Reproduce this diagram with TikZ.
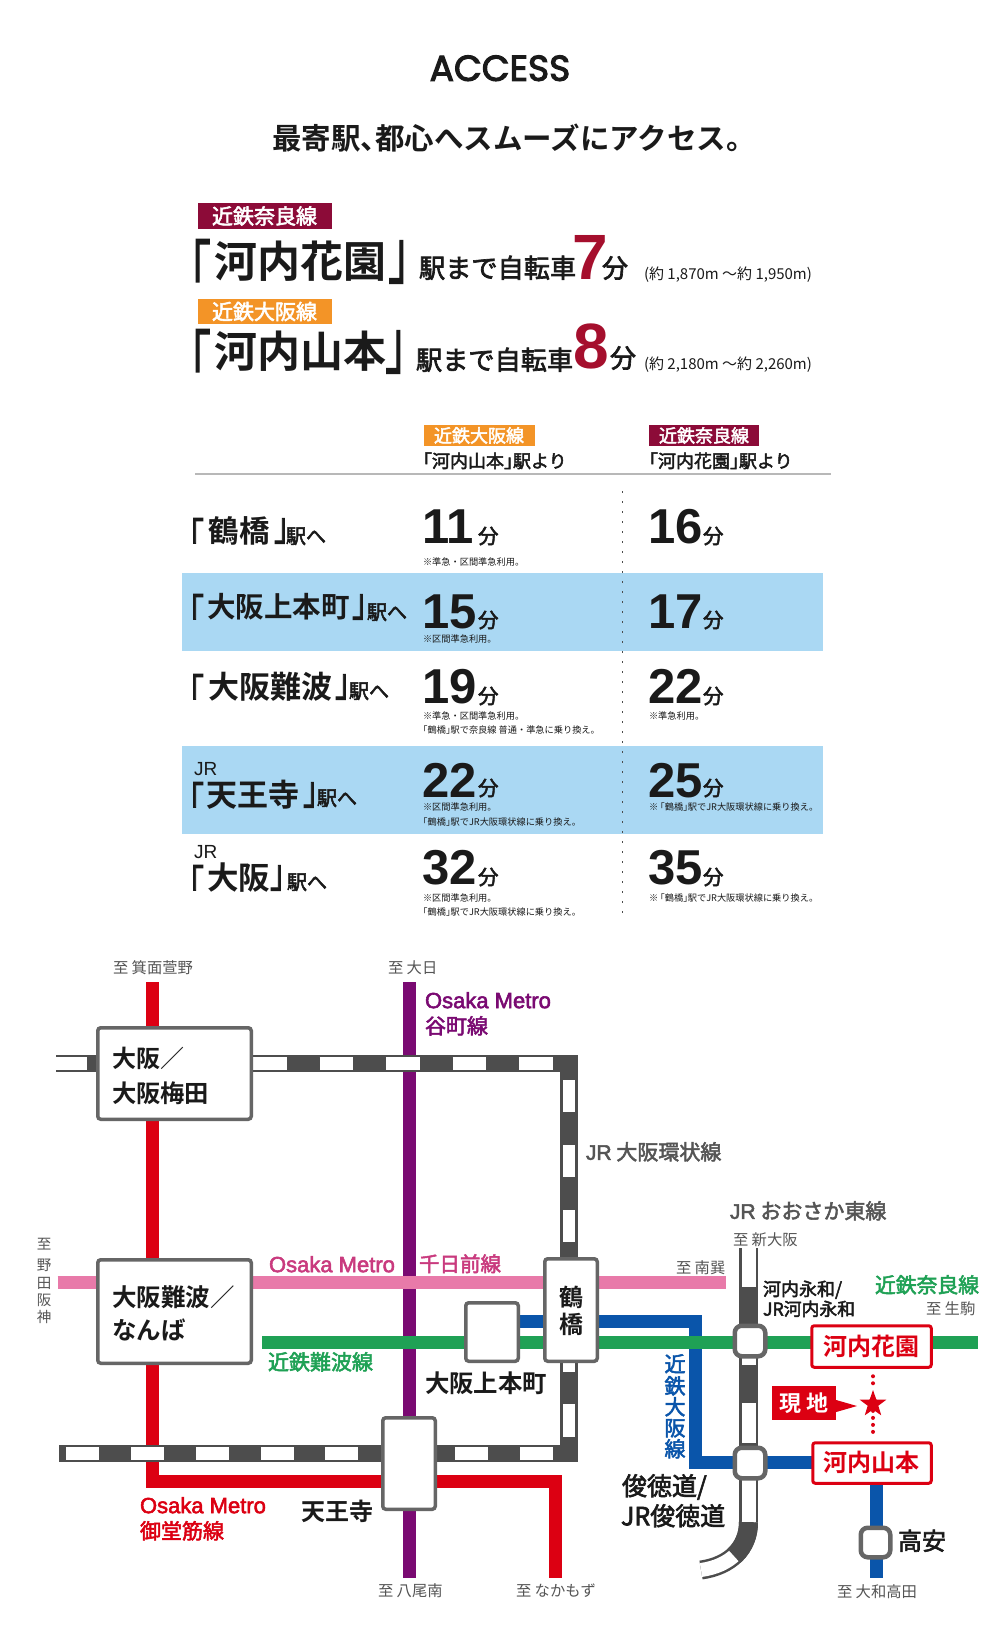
\documentclass[tikz,border=0pt]{standalone}
\usepackage{fontspec}
\usepackage{graphicx}
\usetikzlibrary{shapes.geometric,backgrounds}
\setmainfont{Noto Sans CJK JP}
\newfontfamily\jr{Noto Sans CJK JP}
\newfontfamily\jb{Noto Sans CJK JP Bold}
\newfontfamily\jm{Noto Sans CJK JP}[FakeBold=2.5]
\newfontfamily\lb{Liberation Sans Bold}
\newfontfamily\lr{Liberation Sans}
\newfontfamily\lm{Liberation Sans}[FakeBold=2.5]
\newfontfamily\pp{Poppins}[FakeBold=3]
\newcommand{\lk}{\makebox[.5em][r]{「}}
\newcommand{\rk}{\makebox[.5em][l]{」}}
\definecolor{maroon}{HTML}{8C0B38}
\definecolor{orangeT}{HTML}{F39427}
\definecolor{numred}{HTML}{A50F2D}
\definecolor{band}{HTML}{AAD8F3}
\definecolor{ink}{HTML}{1A1A1A}
\definecolor{gtext}{HTML}{555555}
\definecolor{stgray}{HTML}{666666}
\definecolor{jrdark}{HTML}{4D4D4D}
\definecolor{lred}{HTML}{DC0012}
\definecolor{lpurple}{HTML}{7A0A72}
\definecolor{lpink}{HTML}{E87AA9}
\definecolor{lpinkt}{HTML}{C93A7E}
\definecolor{lgreen}{HTML}{1FA155}
\definecolor{lblue}{HTML}{0A55AA}
\tikzset{
 txt/.style={inner sep=0pt,outer sep=0pt,text=ink},
 stbox/.style={draw=stgray,line width=3.5pt,fill=white,rounded corners=3pt,inner sep=0pt,outer sep=0pt},
 smallst/.style={draw=stgray,line width=4.5pt,fill=white,rounded corners=7pt,inner sep=0pt,outer sep=0pt},
 redst/.style={draw=lred,line width=3pt,fill=white,rounded corners=2.5pt,inner sep=0pt,outer sep=0pt},
 railline/.style={line width=13pt,line join=miter},
 jrbase/.style={draw=jrdark,line width=17.5pt,line join=miter},
 jrw/.style={draw=white,line width=12.5pt},
 ebase/.style={draw=jrdark,line width=19pt},
 ew/.style={draw=white,line width=14pt},
}
\newcommand{\Tw}[6][]{\node[txt,anchor=base west,#1] (#2) at (#3,{#4+0.37*#5}) {\fontsize{#5}{#5}\selectfont #6};}
\newcommand{\Tc}[6][]{\node[txt,anchor=base,#1] (#2) at (#3,{#4+0.37*#5}) {\fontsize{#5}{#5}\selectfont #6};}
% bracketed name: name, ink-left x, ink-right x, centre y, bracket size, bracket y-scale, text centre x, text size, text
\newcommand{\Lab}[9]{%
 \node[txt,anchor=center] (#1L) at ({#2+0.15*#5},{#4+0.12*#5}) {\fontsize{#5}{#5}\selectfont\jm\makebox[.5em][r]{\scalebox{1}[#6]{「}}};%
 \node[txt,anchor=center] (#1R) at ({#3-0.15*#5},#4) {\fontsize{#5}{#5}\selectfont\jm\makebox[.5em][l]{\scalebox{1}[#6]{」}}};%
 \Tc{#1}{#7}{#4}{#8}{\jb #9}}
\newcommand{\St}[6]{\node[#6,minimum width={(#4-#2)*1pt-3.5pt},minimum height={(#5-#3)*1pt-3.5pt}] (#1) at ({(#2+#4)/2},{(#3+#5)/2}) {};}
\begin{document}
\begin{tikzpicture}[x=1pt,y=-1pt]
\useasboundingbox (0,0) rectangle (1000,1644);
\begin{pgfonlayer}{background}
\fill[white] (0,0) rectangle (1000,1644);
\fill[band] (182,573) rectangle (823,651);
\fill[band] (182,746) rectangle (823,834);
\end{pgfonlayer}
% ---------- header
\Tc{access}{500}{67.5}{36}{\pp ACCESS}
\Tw{tagline}{272}{138.5}{29.5}{\jb 最寄駅\makebox[.5em][l]{、}都心へスムーズにアクセス。}
\node[fill=maroon,minimum width=134pt,minimum height=26pt,inner sep=0pt,text=white,font=\fontsize{21}{21}\selectfont\jm] (tagA) at (264.5,216) {近鉄奈良線};
\node[fill=orangeT,minimum width=134pt,minimum height=25pt,inner sep=0pt,text=white,font=\fontsize{21}{21}\selectfont\jm] (tagB) at (264.5,311.5) {近鉄大阪線};
\Lab{kh}{194}{405}{262}{42}{1.56}{300}{43}{河内花園}
\Tw{kc}{419}{268}{26.2}{\jm 駅まで自転車}
\Tw[text=numred]{kd}{572}{256}{64}{\lb 7}
\Tw{ke}{602}{268}{26}{\jm 分}
\Tw{kf}{644}{274}{15}{\jr (約 1,870m ～約 1,950m)}
\Lab{ky}{194}{402}{352}{42}{1.56}{300}{43}{河内山本}
\Tw{yc}{416}{360}{26.2}{\jm 駅まで自転車}
\Tw[text=numred]{yd}{573}{345}{64}{\lb 8}
\Tw{ye}{610}{358}{26}{\jm 分}
\Tw{yf}{644}{364}{15}{\jr (約 2,180m ～約 2,260m)}
% ---------- table
\node[fill=orangeT,minimum width=111pt,minimum height=21pt,inner sep=0pt,text=white,font=\fontsize{18}{18}\selectfont\jm] (h1) at (479,435.5) {近鉄大阪線};
\node[fill=maroon,minimum width=110pt,minimum height=21pt,inner sep=0pt,text=white,font=\fontsize{18}{18}\selectfont\jm] (h2) at (704,435.5) {近鉄奈良線};
\Tw{h1b}{423}{461}{18}{\jm\lk 河内山本\rk 駅より}
\Tw{h2b}{649}{461}{18}{\jm\lk 河内花園\rk 駅より}
\coordinate (ruleL) at (195,474); \coordinate (ruleR) at (831,474);
\draw[draw=black!28,line width=1.3pt] (ruleL) -- (ruleR);
\coordinate (vT) at (622,491); \coordinate (vB) at (622,918);
\draw[draw=black!70,line width=1pt,dash pattern=on 2pt off 8pt] (vT) -- (vB);
% row labels
\Lab{r1}{192}{286}{531}{30}{1.3}{239}{30.5}{鶴橋}
\Tw{r1b}{286}{536}{20}{\jm 駅へ}
\Lab{r2}{192}{364}{607}{30}{1.3}{278.5}{28.5}{大阪上本町}
\Tw{r2b}{367}{612}{20}{\jm 駅へ}
\Lab{r3}{192}{347}{687}{30}{1.3}{270}{31}{大阪難波}
\Tw{r3b}{349}{691}{20}{\jm 駅へ}
\Tw{r4j}{194}{768}{19}{\lr JR}
\Lab{r4}{192}{315}{795}{30}{1.3}{253}{31}{天王寺}
\Tw{r4b}{317}{798}{20}{\jm 駅へ}
\Tw{r5j}{194}{851}{19}{\lr JR}
\Lab{r5}{192}{282}{878}{30}{1.3}{238.5}{31.5}{大阪}
\Tw{r5b}{287}{882}{20}{\jm 駅へ}
% numbers
\newcommand{\Num}[6]{\Tw{#1n}{#2}{#3}{49}{\lb #4}\Tw{#1u}{#5}{#6}{20.5}{\jm 分}}
\Num{a1}{422}{525}{11}{478}{536}
\Num{a2}{422}{610}{15}{478}{620}
\Num{a3}{422}{685}{19}{478}{696}
\Num{a4}{422}{779}{22}{478}{788}
\Num{a5}{422}{866}{32}{478}{877}
\Num{b1}{648}{525}{16}{703}{536}
\Num{b2}{648}{610}{17}{703}{620}
\Num{b3}{648}{685}{22}{703}{696}
\Num{b4}{648}{779}{25}{703}{788}
\Num{b5}{648}{866}{35}{703}{877}
% notes
\newcommand{\Nt}[4]{\Tw{#1}{#2}{#3}{9.2}{\jr #4}}
\Nt{n1}{423}{562}{※準急・区間準急利用。}
\Nt{n2}{423}{639}{※区間準急利用。}
\Nt{n3}{423}{716}{※準急・区間準急利用。}
\Nt{n4}{423}{730}{\lk 鶴橋\rk 駅で奈良線 普通・準急に乗り換え。}
\Nt{n5}{649}{716}{※準急利用。}
\Nt{n6}{423}{807}{※区間準急利用。}
\Nt{n7}{423}{822}{\lk 鶴橋\rk 駅でJR大阪環状線に乗り換え。}
\Nt{n8}{649}{807}{※ \lk 鶴橋\rk 駅でJR大阪環状線に乗り換え。}
\Nt{n9}{423}{898}{※区間準急利用。}
\Nt{n10}{423}{912}{\lk 鶴橋\rk 駅でJR大阪環状線に乗り換え。}
\Nt{n11}{649}{898}{※ \lk 鶴橋\rk 駅でJR大阪環状線に乗り換え。}
% ---------- map stations
\St{umeda}{96}{1026}{253}{1121}{stbox}
\St{namba}{96}{1258}{253}{1365}{stbox}
\St{uehon}{464}{1301}{520}{1363}{stbox}
\St{tsuru}{543}{1257}{599}{1363}{stbox}
\St{tenno}{381}{1416}{437}{1511}{stbox}
\St{nagata}{733}{1324}{767}{1358}{smallst}
\St{shuntoku}{733}{1446}{767}{1480}{smallst}
\St{takayasu}{859}{1526}{892}{1559}{smallst}
\St{hanazono}{810}{1324}{933}{1369}{redst}
\St{yamamoto}{811}{1441}{933}{1485}{redst}
\coordinate (redT) at (152.5,982);
\coordinate (redC) at (152.5,1481.5);
\coordinate (redR) at (555,1481.5);
\coordinate (redB) at (555,1578);
\coordinate (purT) at (409.5,982);
\coordinate (purB) at (409.5,1578);
\coordinate (pinkL) at (57.5,1282.5);
\coordinate (pinkR) at (726,1282.5);
\coordinate (grL) at (262,1342.5);
\coordinate (grR) at (978,1342.5);
\coordinate (blU) at (695,1321);
\coordinate (blD) at (695,1462.5);
\coordinate (blB) at (876.5,1578);
\coordinate (loopTL) at (56,1063.5);
\coordinate (loopC1) at (569,1063.5);
\coordinate (loopC2) at (569,1453.5);
\coordinate (loopBL) at (58.6,1453.5);
\coordinate (eT) at (748.5,1248);
\coordinate (eM) at (748.5,1522);
\coordinate (eE) at (701,1570);
\coordinate (star) at (873,1404);
\begin{pgfonlayer}{background}
\draw[railline,draw=lred] (redT) -- (redC) -- (redR) -- (redB);
\draw[railline,draw=lpurple] (purT) -- (purB);
\draw[railline,draw=lpink] (pinkL) -- (pinkR);
\draw[railline,draw=lblue] (uehon.center |- blU) -- (blU) -- (blD) -- (yamamoto.center |- blD);
\draw[railline,draw=lblue] (yamamoto.center -| blB) -- (blB);
\draw[railline,draw=lgreen] (grL) -- (grR);
\draw[jrbase] (loopTL) -- (loopC1) -- (loopC2) -- (loopBL);
\draw[jrw] (50,1063.5) -- (87,1063.5);
\foreach \a in {253,319.5,386,452.5,519} \draw[jrw] (\a,1063.5) -- (\a+33.5,1063.5);
\foreach \a/\b in {1080/1112,1145/1177,1210/1242,1350/1372,1404/1437} \draw[jrw] (569,\a) -- (569,\b);
\foreach \a in {66,131,196,261,325,455,520} \draw[jrw] (\a,1453.5) -- (\a+32.5,1453.5);
\draw[ebase] (eT) -- (eM);
\draw[ebase] (eM) .. controls (748.5,1548) and (730,1566) .. (eE);
\draw[ew] (eM) .. controls (748.5,1548) and (730,1566) .. (eE);
\draw[ebase,dash pattern=on 38pt off 100pt] (eM) .. controls (748.5,1548) and (730,1566) .. (eE);
\foreach \a/\b in {1248/1287,1358/1365,1403/1443,1480/1522} \draw[ew] (748.5,\a) -- (748.5,\b);
\end{pgfonlayer}
% ---------- map labels
\Tw{to1}{113}{968}{15.3}{\jr\color{gtext}至 箕面萱野}
\Tw{to2}{388}{968}{15.3}{\jr\color{gtext}至 大日}
\Tw{to3}{378}{1591}{15.3}{\jr\color{gtext}至 八尾南}
\Tw{to4}{516}{1591}{15.3}{\jr\color{gtext}至 なかもず}
\Tw{to5}{837}{1592}{15.3}{\jr\color{gtext}至 大和高田}
\Tw{to6}{733}{1240}{15.3}{\jr\color{gtext}至 新大阪}
\Tw{to7}{676}{1268}{15.3}{\jr\color{gtext}至 南巽}
\Tw{to8}{926}{1309}{15.3}{\jr\color{gtext}至 生駒}
\Tc{v1}{44}{1244}{14.5}{\jr\color{gtext}至}
\Tc{v2}{44}{1265}{14.5}{\jr\color{gtext}野}
\Tc{v3}{44}{1283}{14.5}{\jr\color{gtext}田}
\Tc{v4}{44}{1300}{14.5}{\jr\color{gtext}阪}
\Tc{v5}{44}{1317}{14.5}{\jr\color{gtext}神}
\Tw[text=lpurple]{m1}{425}{1000}{22}{\lm Osaka Metro}
\Tw[text=lpurple]{m2}{425}{1026}{21}{\jm 谷町線}
\Tw[text=lpinkt]{p1}{269}{1264}{22}{\lm Osaka Metro}
\Tw[text=lpinkt]{p2}{419}{1264}{20.5}{\jm 千日前線}
\Tw[text=lred]{d1}{140}{1505}{22}{\lm Osaka Metro}
\Tw[text=lred]{d2}{140}{1531}{21}{\jm 御堂筋線}
\Tw[text=lgreen]{g1}{268}{1362}{21}{\jm 近鉄難波線}
\Tw[text=lgreen]{g2}{875}{1285}{20.8}{\jm 近鉄奈良線}
\Tw{jr1}{586}{1152}{21}{\color{gtext}\lm JR\jm{} 大阪環状線}
\Tw{jr2}{730}{1211}{21}{\color{gtext}\lm JR\jm{} おおさか東線}
\Tw{s1}{112}{1059}{24}{\jb 大阪\jr ／}
\Tw{s2}{112}{1093}{24.3}{\jb 大阪梅田}
\Tw{s3}{112}{1297}{24.5}{\jb 大阪難波\jr ／}
\Tw{s4}{112}{1330}{24.5}{\jb なんば}
\Tc{s5a}{571}{1298}{24}{\jb 鶴}
\Tc{s5b}{571}{1325}{24}{\jb 橋}
\Tw{s6}{425}{1383}{24.4}{\jb 大阪上本町}
\Tw{s7}{301}{1512}{24}{\jb 天王寺}
\Tw{s8}{763}{1289}{18}{\jm 河内永和/}
\Tw{s9}{763}{1309}{17.8}{\jm JR河内永和}
\Tw{s10}{622}{1486}{25}{\jm 俊徳道/}
\Tw{s11}{621}{1516}{25}{\jm JR俊徳道}
\Tw{s12}{898}{1541}{24}{\jm 高安}
\Tc[text=lred]{s13}{871.5}{1347}{24}{\jb 河内花園}
\Tc[text=lred]{s14}{871.5}{1463}{24}{\jb 河内山本}
\foreach \i/\yy in {1/1364,2/1386,3/1407,4/1428,5/1449}
  {\Tc[text=lblue]{kb\i}{675}{\yy}{21}{\jm \ifcase\i\or 近\or 鉄\or 大\or 阪\or 線\fi}}
\node[fill=lred,minimum width=64pt,minimum height=34pt,inner sep=0pt,text=white,font=\fontsize{22}{22}\selectfont\jb] (genchi) at (804,1403) {現 地};
\node[star,star points=5,star point ratio=2.5,fill=lred,minimum size=28pt,inner sep=0pt] (starn) at (star) {};
\fill[lred] ([yshift=3pt]genchi.east) -- (857,1406) -- ([yshift=-9pt]genchi.east) -- cycle;
\draw[draw=lred,line width=4pt,line cap=round,dash pattern=on 0pt off 7pt] (starn |- hanazono.south) ++(0,9) -- (starn.north);
\draw[draw=lred,line width=4pt,line cap=round,dash pattern=on 0pt off 7pt] (starn.south) ++(0,1) -- (873,1436);
\end{tikzpicture}
\end{document}
